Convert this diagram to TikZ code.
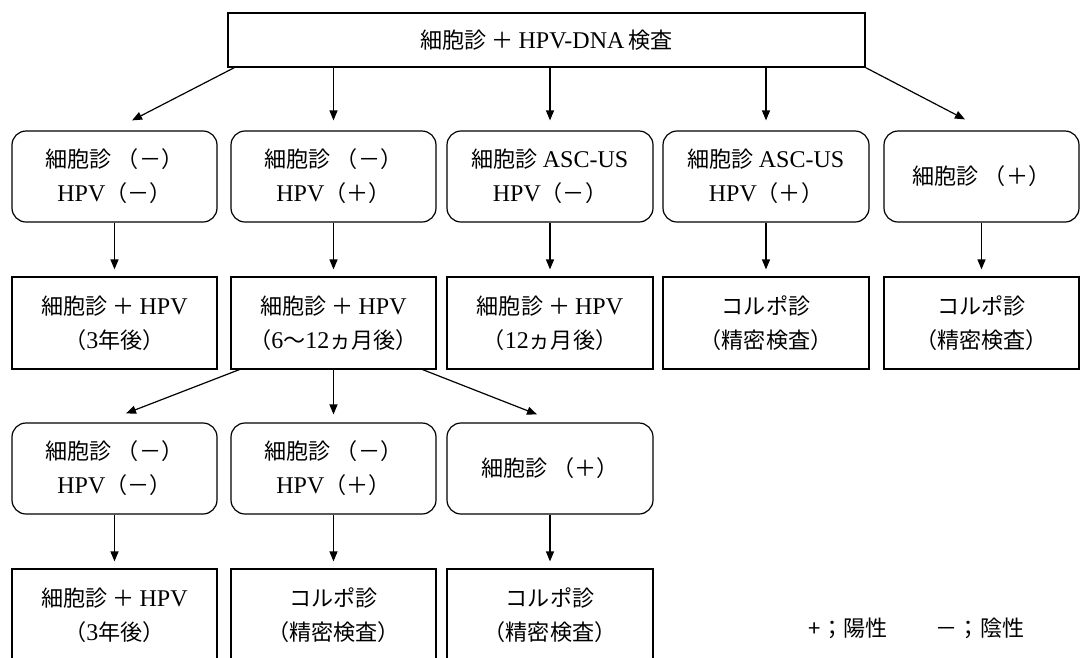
\documentclass[tikz,border=0pt]{standalone}
\usepackage{fontspec}
\setmainfont{Liberation Serif}
\newfontfamily\jp[Scale=0.92]{Noto Sans CJK JP}
\usetikzlibrary{arrows.meta}
\newcommand\J[1]{{\jp #1}}

\begin{document}
\begin{tikzpicture}[x=1pt,y=-1pt,
  every node/.style={font=\fontsize{24}{34}\selectfont, align=center, inner sep=0pt},
  rbox/.style={draw, line width=1.2pt, rounded corners=14pt, minimum width=205pt, minimum height=91pt},
  sbox/.style={draw, line width=1.2pt, minimum width=205pt, minimum height=92pt},
  conn/.style={line width=1.2pt, -{Triangle[length=10pt,width=8pt]}}]

\useasboundingbox (0,0) rectangle (1080,657);
\clip (0,0) rectangle (1080,657);

% screening step
\node[draw, line width=1.2pt, minimum width=637pt, minimum height=54pt] (top) at (546.5,40)
  {\J{細胞診 ＋ }HPV-DNA\,\J{検査}};

% first results
\node[rbox] (a1) at (114.5,176.5) {\J{細胞診 （－）}\\HPV\J{（－）}};
\node[rbox] (a2) at (333.5,176.5) {\J{細胞診 （－）}\\HPV\J{（＋）}};
\node[rbox, minimum width=206pt] (a3) at (550,176.5) {\J{細胞診 }ASC-US\\HPV\J{（－）}};
\node[rbox, minimum width=206pt] (a4) at (766,176.5) {\J{細胞診 }ASC-US\\HPV\J{（＋）}};
\node[rbox, minimum width=195pt] (a5) at (981.5,176.5) {\J{細胞診 （＋）}};

% follow-up
\node[sbox] (b1) at (114.5,323) {\J{細胞診 ＋ }HPV\\\J{（}3\J{年後）}};
\node[sbox] (b2) at (333.5,323) {\J{細胞診 ＋ }HPV\\\J{（}6\J{～}12\J{ヵ月後）}};
\node[sbox, minimum width=206pt] (b3) at (550,323) {\J{細胞診 ＋ }HPV\\\J{（}12\J{ヵ月後）}};
\node[sbox, minimum width=206pt] (b4) at (766,323) {\J{コルポ診}\\\J{（精密検査）}};
\node[sbox, minimum width=195pt] (b5) at (981.5,323) {\J{コルポ診}\\\J{（精密検査）}};

% second results
\node[rbox] (c1) at (114.5,468.5) {\J{細胞診 （－）}\\HPV\J{（－）}};
\node[rbox] (c2) at (333.5,468.5) {\J{細胞診 （－）}\\HPV\J{（＋）}};
\node[rbox, minimum width=206pt] (c3) at (550,468.5) {\J{細胞診 （＋）}};

% final follow-up
\node[sbox] (d1) at (114.5,615) {\J{細胞診 ＋ }HPV\\\J{（}3\J{年後）}};
\node[sbox] (d2) at (333.5,615) {\J{コルポ診}\\\J{（精密検査）}};
\node[sbox, minimum width=206pt] (d3) at (550,615) {\J{コルポ診}\\\J{（精密検査）}};

% legend
\node (lp) at (848,628) {\J{+；陽性}};
\node (lm) at (980,628) {\J{－；陰性}};

% connectors
\draw[conn] ([xshift=7pt]top.south west) -- ([xshift=17.5pt,yshift=10pt]a1.north);
\foreach \i in {2,3,4}
  \draw[conn] (top.south -| a\i.north) -- ([yshift=10pt]a\i.north);
\draw[conn] (top.south east) -- ([xshift=-16.5pt,yshift=11pt]a5.north);

\foreach \i in {1,...,5}
  \draw[conn] (a\i.south) -- ([yshift=7pt]b\i.north);

\draw[conn] ([xshift=9pt]b2.south west) -- ([xshift=11.5pt,yshift=9pt]c1.north);
\draw[conn] (b2.south) -- ([yshift=8pt]c2.north);
\draw[conn] ([xshift=-14pt]b2.south east) -- ([xshift=-13pt,yshift=8pt]c3.north);

\foreach \i in {1,2,3}
  \draw[conn] (c\i.south) -- ([yshift=7pt]d\i.north);
\end{tikzpicture}
\end{document}
